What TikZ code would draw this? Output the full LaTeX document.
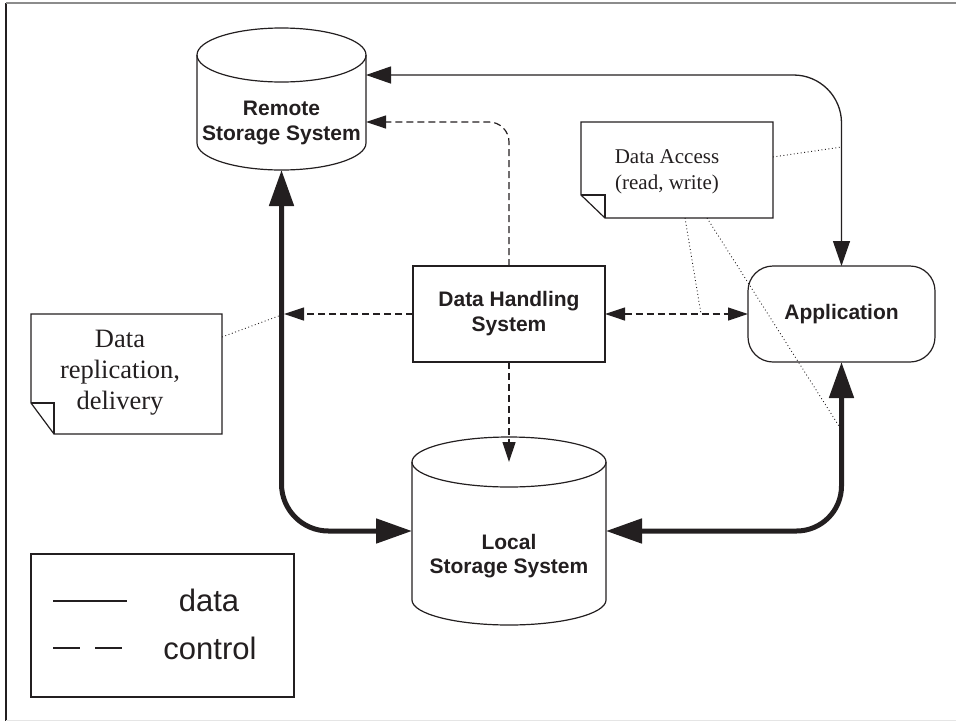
\documentclass[tikz,border=0pt]{standalone}
\usepackage{fontspec}
\setmainfont{Liberation Serif}
\setsansfont{Liberation Sans}
\usetikzlibrary{arrows.meta,calc}
\definecolor{ink}{RGB}{35,31,32}
\begin{document}
\begin{tikzpicture}[x=1pt,y=1pt,
  body/.style={inner sep=0pt, outer sep=0pt},
  outline/.style={draw=ink, line width=1.2pt},
  sysbox/.style={body, outline, minimum width=192pt, minimum height=96pt,
    font=\sffamily\bfseries\fontsize{21}{25}\selectfont, align=center, text=ink},
  appbox/.style={sysbox, minimum width=187pt, rounded corners=25pt},
  boldlbl/.style={font=\sffamily\bfseries\fontsize{21}{24.5}\selectfont, align=center, text=ink},
  notelbl/.style={font=\fontsize{21}{26}\selectfont, align=center, text=ink},
  legendlbl/.style={font=\sffamily\fontsize{31}{36}\selectfont, text=ink, anchor=base},
  dataln/.style={draw=ink, line width=1.3pt, {Triangle[length=25pt,width=17pt]}-{Triangle[length=25pt,width=17pt]}},
  bulk/.style={draw=ink, line width=5pt, {Triangle[length=36pt,width=24pt]}-{Triangle[length=36pt,width=24pt]}},
  ctrl/.style={draw=ink, line width=1.2pt, dash pattern=on 7pt off 4pt},
  ctip/.style={-{Triangle[length=20pt,width=13pt]}},
  ctips/.style={{Triangle[length=20pt,width=13pt]}-{Triangle[length=20pt,width=13pt]}},
  hint/.style={draw=ink, line width=0.9pt, dash pattern=on 0.9pt off 2.6pt},
]
\useasboundingbox (0,0) rectangle (956,-721);

% page frame
\draw[ink, line width=1.5pt] (6,-3) -- (6,-721);
\draw[black!45, line width=2pt] (6,-2.5) -- (956,-2.5);
\draw[black!10, line width=1pt] (6,-720) -- (956,-720);

% remote storage cylinder
\node[body, minimum width=169pt, minimum height=88pt] (remote) at (281.5,-55-44) {};
\draw[outline] (remote.north west) -- (remote.south west)
  arc[start angle=180, end angle=360, x radius=84.5pt, y radius=27pt] -- (remote.north east);
\draw[outline] (remote.north) ellipse[x radius=84.5pt, y radius=27pt];
\node[boldlbl] (remotelbl) at (281.5,-123) {Remote\\Storage System};

% local storage cylinder
\node[body, minimum width=194pt, minimum height=138pt] (local) at (509,-531) {};
\draw[outline] (local.north west) -- (local.south west)
  arc[start angle=180, end angle=360, x radius=97pt, y radius=25pt] -- (local.north east);
\draw[outline] (local.north) ellipse[x radius=97pt, y radius=25pt];
\node[boldlbl] (locallbl) at (509,-556) {Local\\Storage System};

% processing boxes
\node[sysbox] (dhs) at (509,-314) {Data Handling\\System};
\node[appbox] (app) at (841.5,-314) {Application};

% annotation notes with folded corner
\node[body, minimum width=191pt, minimum height=120pt] (repnote) at (126.5,-374) {};
\draw[outline] ([yshift=31pt]repnote.south west) -- (repnote.north west) -- (repnote.north east)
  -- (repnote.south east) -- ([xshift=23pt]repnote.south west) -- cycle;
\draw[outline] ([yshift=31pt]repnote.south west) -- ([shift={(23pt,31pt)}]repnote.south west)
  -- ([xshift=23pt]repnote.south west);
\node[notelbl, font=\fontsize{26.5}{31}\selectfont] (replbl) at (120,-373) {Data\\replication,\\delivery};

\node[body, minimum width=192pt, minimum height=96pt] (accnote) at (677,-170) {};
\draw[outline] ([yshift=23pt]accnote.south west) -- (accnote.north west) -- (accnote.north east)
  -- (accnote.south east) -- ([xshift=24pt]accnote.south west) -- cycle;
\draw[outline] ([yshift=23pt]accnote.south west) -- ([shift={(24pt,23pt)}]accnote.south west)
  -- ([xshift=24pt]accnote.south west);
\node[notelbl] (acclbl) at (667,-172) {Data Access\\(read, write)};

% data connectors
\coordinate (rb) at ([yshift=-27pt]remote.south);
\draw[bulk, rounded corners=47pt] (rb) |- (local.west);
\draw[bulk, rounded corners=45pt] (local.east) -| (app.south);
\draw[dataln, rounded corners=48pt] ([yshift=-20pt]remote.north east) -| (app.north);

% control connectors
\coordinate (tap) at ([xshift=2.5pt]rb |- dhs.west);
\draw[ctrl, ctip, rounded corners=20pt] (dhs.north) |- ([yshift=-67pt]remote.north east);
\draw[ctrl, ctips] (dhs.east) -- (app.west);
\draw[ctrl, ctip] (dhs.west) -- (tap);
\draw[ctrl, ctip] (dhs.south) -- (local.north);

% dotted pointers from the notes
\draw[hint] ([yshift=-23pt]repnote.north east) -- (tap);
\draw[hint] ([yshift=-35pt]accnote.north east) -- ([yshift=119pt]app.north);
\draw[hint] ([xshift=104pt]accnote.south west) -- ([xshift=96pt]dhs.east);
\draw[hint] ([xshift=126pt]accnote.south west) -- ([yshift=-68pt]app.south);

% legend
\node[body, outline, minimum width=263pt, minimum height=143pt] (legend) at (162.5,-625.5) {};
\draw[draw=ink, line width=2pt] ([shift={(22pt,-47pt)}]legend.north west) -- ([shift={(96pt,-47pt)}]legend.north west);
\draw[draw=ink, line width=2pt, dash pattern=on 27pt off 15pt] ([shift={(22pt,-94pt)}]legend.north west) -- ([shift={(91pt,-94pt)}]legend.north west);
\node[legendlbl] (datalbl) at (209,-611.5) {data};
\node[legendlbl] (ctrllbl) at (210,-659) {control};
\end{tikzpicture}
\end{document}
